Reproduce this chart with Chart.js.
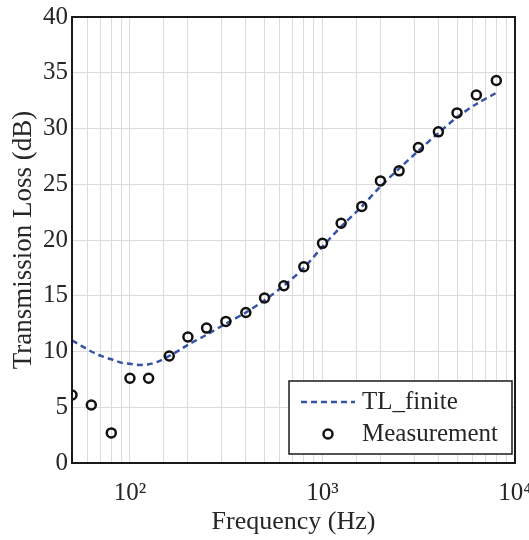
<!DOCTYPE html>
<html>
<head>
<meta charset="utf-8">
<script src="https://cdn.jsdelivr.net/npm/chart.js@4/dist/chart.umd.min.js"></script>
<style>
  html, body { margin: 0; padding: 0; background: #fff; }
  #wrap { width: 529px; height: 540px; }
</style>
</head>
<body>
<div id="wrap"><canvas id="c" width="529" height="540"></canvas></div>
<script>
// Measurement (1/3-octave band centre frequencies, Hz) and values (dB)
const measFreqs = [50, 63, 80, 100, 125, 160, 200, 250, 315, 400, 500, 630, 800, 1000, 1250, 1600, 2000, 2500, 3150, 4000, 5000, 6300, 8000];
const measTL    = [6.1, 5.2, 2.7, 7.6, 7.6, 9.6, 11.3, 12.1, 12.7, 13.5, 14.8, 15.9, 17.6, 19.7, 21.5, 23.0, 25.3, 26.2, 28.3, 29.7, 31.4, 33.0, 34.3];

// TL_finite predicted curve
const curveFreqs = [50, 56, 63, 71, 80, 90, 100, 112, 125, 140, 160, 180, 200, 250, 315, 400, 500, 630, 800, 1000, 1250, 1600, 2000, 2500, 3150, 4000, 5000, 6300, 8000];
const curveTL    = [11.0, 10.5, 10.0, 9.6, 9.3, 9.0, 8.9, 8.8, 8.85, 9.1, 9.6, 10.1, 10.6, 11.5, 12.5, 13.5, 14.6, 15.9, 17.5, 19.4, 21.2, 23.0, 24.8, 26.4, 28.0, 29.6, 31.0, 32.2, 33.2];

const seriesNames = ['TL_finite', 'Measurement'];
const xTickLabels = { 2: '10\u00B2', 3: '10\u00B3', 4: '10\u2074' };
const yTicks = [0, 5, 10, 15, 20, 25, 30, 35, 40];

const FONT = 'Liberation Serif, Times New Roman, serif';
const TXT = '#262626';
const BLUE = '#3552a6';

const framePlugin = {
  id: 'frame',
  afterDraw(chart) {
    const { ctx, chartArea: a } = chart;
    ctx.save();
    ctx.strokeStyle = '#1a1a1a';
    ctx.lineWidth = 2;
    ctx.strokeRect(a.left, a.top, a.right - a.left, a.bottom - a.top);
    ctx.restore();
  }
};

const legendPlugin = {
  id: 'boxLegend',
  afterDraw(chart) {
    const { ctx, chartArea: a } = chart;
    const ds = chart.data.datasets;
    const bx = a.right - 226, by = a.bottom - 82, bw = 223, bh = 73;
    ctx.save();
    ctx.fillStyle = '#fff';
    ctx.fillRect(bx, by, bw, bh);
    ctx.strokeStyle = '#1a1a1a';
    ctx.lineWidth = 1.5;
    ctx.strokeRect(bx, by, bw, bh);
    ctx.font = '25px ' + FONT;
    ctx.fillStyle = TXT;
    ctx.textBaseline = 'middle';
    const y1 = by + 21, y2 = by + 53;
    ctx.strokeStyle = ds[0].borderColor;
    ctx.lineWidth = ds[0].borderWidth;
    ctx.setLineDash(ds[0].borderDash);
    ctx.beginPath();
    ctx.moveTo(bx + 12, y1);
    ctx.lineTo(bx + 66, y1);
    ctx.stroke();
    ctx.setLineDash([]);
    ctx.fillText(ds[0].label, bx + 73, y1);
    ctx.strokeStyle = ds[1].borderColor;
    ctx.lineWidth = ds[1].borderWidth;
    ctx.beginPath();
    ctx.arc(bx + 39, y2, ds[1].pointRadius, 0, Math.PI * 2);
    ctx.stroke();
    ctx.fillText(ds[1].label, bx + 73, y2);
    ctx.restore();
  }
};

new Chart(document.getElementById('c'), {
  type: 'scatter',
  data: {
    datasets: [
      {
        label: seriesNames[0],
        data: curveFreqs.map((f, i) => ({ x: f, y: curveTL[i] })),
        showLine: true,
        borderColor: BLUE,
        borderWidth: 2.5,
        borderDash: [6, 4],
        pointRadius: 0,
        tension: 0.3,
        order: 2
      },
      {
        label: seriesNames[1],
        data: measFreqs.map((f, i) => ({ x: f, y: measTL[i] })),
        showLine: false,
        borderColor: '#111',
        backgroundColor: 'rgba(0,0,0,0)',
        borderWidth: 2.5,
        pointRadius: 4.5,
        order: 1
      }
    ]
  },
  options: {
    responsive: false,
    animation: false,
    devicePixelRatio: 1,
    layout: { padding: { top: 17, right: 14, left: 0, bottom: 0 } },
    plugins: {
      legend: { display: false },
      tooltip: { enabled: false }
    },
    scales: {
      x: {
        type: 'logarithmic',
        min: 50,
        max: 10000,
        afterFit(s) { s.height = 77; s.paddingRight = 0; s.paddingLeft = 0; },
        border: { display: true, color: '#1a1a1a', width: 2 },
        grid: { color: '#dcdcdc', lineWidth: 1, drawTicks: false },
        ticks: {
          autoSkip: false,
          maxRotation: 0,
          padding: 15,
          color: TXT,
          font: { family: FONT, size: 25 },
          callback(v) {
            const e = Math.log10(v);
            const r = Math.round(e);
            return Math.abs(e - r) < 1e-9 ? (xTickLabels[r] || '') : '';
          }
        },
        title: {
          display: true,
          text: 'Frequency (Hz)',
          color: TXT,
          font: { family: FONT, size: 26 },
          padding: { top: 0, bottom: 2 }
        }
      },
      y: {
        min: 0,
        max: 40,
        afterFit(s) { s.width = 72; s.paddingTop = 0; s.paddingBottom = 0; },
        afterBuildTicks(s) { s.ticks = yTicks.map(v => ({ value: v })); },
        border: { display: true, color: '#1a1a1a', width: 2 },
        grid: { color: '#dcdcdc', lineWidth: 1, drawTicks: false },
        ticks: {
          padding: 4,
          color: TXT,
          font: { family: FONT, size: 25 }
        },
        title: {
          display: true,
          text: 'Transmission Loss (dB)',
          color: TXT,
          font: { family: FONT, size: 27 },
          padding: { top: 8, bottom: 0 }
        }
      }
    }
  },
  plugins: [framePlugin, legendPlugin]
});
</script>
</body>
</html>
